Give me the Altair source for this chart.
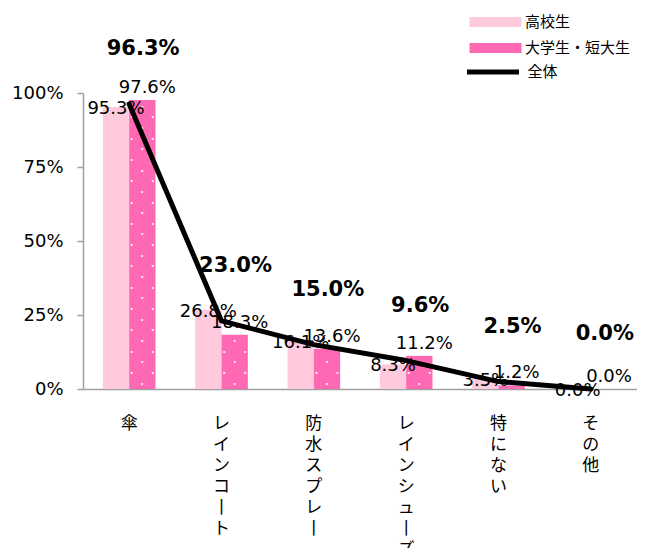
import altair as alt
import pandas as pd

categories = ["傘", "レインコート", "防水スプレー", "レインシューズ", "特にない", "その他"]
series = ["高校生", "大学生・短大生"]
total_name = "全体"
highschool = [95.3, 26.8, 16.1, 8.3, 3.5, 0.0]
university = [97.6, 18.3, 13.6, 11.2, 1.2, 0.0]
overall = [96.3, 23.0, 15.0, 9.6, 2.5, 0.0]
y_ticks = [0, 25, 50, 75, 100]
bar_colors = ["#FFC9DE", "#FF69B4"]

rows = []
for c, a, b in zip(categories, highschool, university):
    rows.append({"cat": c, "series": series[0], "v": a})
    rows.append({"cat": c, "series": series[1], "v": b})
bars_df = pd.DataFrame(rows)
line_df = pd.DataFrame({"cat": categories, "s": total_name, "v": overall})

NUM_FONT = "DejaVu Sans"
JP_FONT = "Noto Sans CJK JP"
AXIS_GRAY = "#A0A0A0"

x_enc = alt.X(
    "cat:N", sort=categories,
    scale=alt.Scale(paddingInner=0.43, paddingOuter=0.215),
    axis=alt.Axis(
        title=None, labelAngle=0, ticks=False, domainColor=AXIS_GRAY, domainWidth=1.5,
        labelExpr="split(replace(datum.label, 'ー', '丨'), '')",
        labelFont=JP_FONT, labelFontSize=17, labelLineHeight=21, labelBaseline="top",
        labelPadding=26, labelColor="#000000", labelOverlap=False, labelLimit=0,
    ),
)
xo_enc = alt.XOffset("series:N", sort=series,
                     scale=alt.Scale(domain=series, paddingInner=0, paddingOuter=0))
y_enc = alt.Y(
    "v:Q", scale=alt.Scale(domain=[0, 100], nice=False),
    axis=alt.Axis(
        title=None, values=y_ticks, labelExpr="datum.value + '%'", grid=False,
        tickSize=6, tickColor=AXIS_GRAY, domainColor=AXIS_GRAY, domainWidth=1.5, tickWidth=1.5,
        labelFont=NUM_FONT, labelFontSize=18, labelPadding=14, labelColor="#000000",
    ),
)

base = alt.Chart(bars_df)

bars = base.mark_bar().encode(
    x=x_enc, xOffset=xo_enc, y=y_enc,
    color=alt.Color(
        "series:N", sort=series,
        scale=alt.Scale(domain=series, range=bar_colors),
        legend=alt.Legend(
            title=None, orient="none", legendX=405, legendY=-78.5,
            symbolType="M-5.2,-1H5.2V1H-5.2Z", symbolSize=100, symbolStrokeWidth=0,
            symbolOpacity=1, labelOffset=22, rowPadding=10, padding=0,
            labelFont=JP_FONT, labelFontSize=15, labelColor="#000000",
        ),
    ),
)

# white dot pattern on the university bars
dots_src = (
    base.transform_filter(alt.datum.series == series[1])
    .transform_calculate(top="datum.v", k="sequence(0, floor(datum.v / 3.6) + 1)")
    .transform_flatten(["k"])
    .transform_calculate(v="datum.k * 3.6 + 1.8")
    .transform_filter("datum.v < datum.top - 1")
)
dot_style = dict(text="•", color="white", fontSize=7, baseline="middle", opacity=0.95)
dot_even = dots_src.transform_filter("datum.k % 2 == 0").mark_text(**dot_style).encode(
    x=x_enc, xOffset=xo_enc, y=y_enc)
dot_left = dots_src.transform_filter("datum.k % 2 == 1").mark_text(dx=-10.5, **dot_style).encode(
    x=x_enc, xOffset=xo_enc, y=y_enc)
dot_right = dots_src.transform_filter("datum.k % 2 == 1").mark_text(dx=10.5, **dot_style).encode(
    x=x_enc, xOffset=xo_enc, y=y_enc)

line = alt.Chart(line_df).mark_line(strokeWidth=5, strokeJoin="round", strokeCap="round").encode(
    x=x_enc, y=y_enc,
    stroke=alt.Stroke(
        "s:N", scale=alt.Scale(domain=[total_name], range=["#000000"]),
        legend=alt.Legend(
            title=None, orient="none", legendX=402.5, legendY=-28.5,
            symbolType="M-5.2,0H5.2", symbolSize=100, symbolStrokeWidth=5,
            symbolStrokeColor="#000000", labelOffset=27, padding=0,
            labelFont=JP_FONT, labelFontSize=15, labelColor="#000000",
        ),
    ),
)

hs_text = (
    base.transform_filter(alt.datum.series == series[0])
    .transform_calculate(label="format(datum.v, '.1f') + '%'")
    .mark_text(font=NUM_FONT, fontSize=18, baseline="middle", dy=2, color="#000000")
    .encode(x=x_enc, xOffset=xo_enc, y=y_enc, text="label:N")
)
un_text = (
    base.transform_filter(alt.datum.series == series[1])
    .transform_calculate(label="format(datum.v, '.1f') + '%'")
    .mark_text(font=NUM_FONT, fontSize=18, baseline="middle", dx=5, dy=-12, color="#000000")
    .encode(x=x_enc, xOffset=xo_enc, y=y_enc, text="label:N")
)
tot_text = (
    alt.Chart(line_df)
    .transform_calculate(label="format(datum.v, '.1f') + '%'")
    .mark_text(font=NUM_FONT, fontSize=21, fontWeight="bold", baseline="middle",
               dx=14, dy=-55, color="#000000")
    .encode(x=x_enc, y=y_enc, text="label:N")
)

chart = alt.layer(
    bars, dot_even, dot_left, dot_right, line, hs_text, un_text, tot_text
).properties(
    width=554, height=296,
    autosize=alt.AutoSizeParams(type="none"),
    padding={"left": 75, "top": 85, "right": 0, "bottom": 159},
).configure_view(stroke=None)

chart.save("out.html", embed_options={"renderer": "svg", "actions": False})
